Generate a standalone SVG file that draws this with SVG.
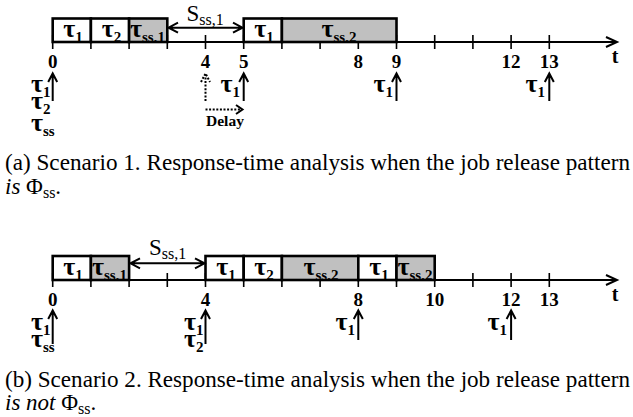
<svg xmlns="http://www.w3.org/2000/svg" width="633" height="417" viewBox="0 0 633 417">
<style>
.axis{stroke:#000;stroke-width:2;fill:none}
.tick{stroke:#000;stroke-width:1.6;fill:none}
.box{stroke:#000;stroke-width:2.6;fill:#fff}
.gray{fill:#c0c0c0}
.arr{stroke:#000;stroke-width:2;fill:none}
.dot{stroke:#000;stroke-width:2;fill:none;stroke-dasharray:2 1.6}
.num{font-family:"Liberation Serif",serif;font-weight:bold;font-size:19px;text-anchor:middle;fill:#000}
.tau{font-family:"Liberation Serif",serif;font-weight:bold;font-size:26px;fill:#000}
.sub{font-size:15px}
.ssub{font-size:16px}
.s{font-family:"Liberation Serif",serif;font-size:23px;fill:#000}
.cap{font-family:"Liberation Serif",serif;font-size:23px;fill:#000}
.it{font-style:italic}
.csub{font-size:16px}
.delay{font-family:"Liberation Serif",serif;font-weight:bold;font-size:15.5px;fill:#000}
</style>
<defs>
<clipPath id="clipA"><rect x="0" y="0" width="633" height="42"/></clipPath>
<clipPath id="clipB"><rect x="0" y="230" width="633" height="50"/></clipPath>
</defs>

<!-- Scenario 1 -->
<g id="axis-a">
<path class="axis" d="M52.7 42H617M606 37L617 42L606 47"/>
<path class="tick" d="M52.7 35V49M90.9 35V49M129.1 35V49M167.3 35V49M205.5 35V49M243.7 35V49M281.9 35V49M320.1 35V49M358.3 35V49M396.5 35V49M434.7 35V49M472.9 35V49M511.1 35V49M549.3 35V49"/>
<text class="num" x="52.7" y="68">0</text>
<text class="num" x="205.5" y="68">4</text>
<text class="num" x="243.7" y="68">5</text>
<text class="num" x="358.3" y="68">8</text>
<text class="num" x="396.5" y="68">9</text>
<text class="num" x="511.1" y="68">12</text>
<text class="num" x="549.3" y="68">13</text>
<text class="num" x="615" y="63" style="font-size:20px">t</text>
</g>
<g id="a-tau1-0"><rect class="box" x="52.7" y="18.5" width="38.2" height="23.5"/></g>
<g id="a-tau2"><rect class="box" x="90.9" y="18.5" width="38.2" height="23.5"/></g>
<g id="a-tauss1"><rect class="box gray" x="129.1" y="18.5" width="38.2" height="23.5"/></g>
<g id="a-tau1-5"><rect class="box" x="243.7" y="18.5" width="38.2" height="23.5"/></g>
<g id="a-tauss2"><rect class="box gray" x="281.9" y="18.5" width="114.6" height="23.5"/></g>
<g id="a-box-labels" clip-path="url(#clipA)">
<text class="tau" x="73" y="37" text-anchor="middle">τ<tspan class="sub" dy="5">1</tspan></text>
<text class="tau" x="111.5" y="37" text-anchor="middle">τ<tspan class="sub" dy="5">2</tspan></text>
<text class="tau" x="130" y="37">τ<tspan class="sub" dy="5">ss,1</tspan></text>
<text class="tau" x="264" y="37" text-anchor="middle">τ<tspan class="sub" dy="5">1</tspan></text>
<text class="tau" x="339" y="37" text-anchor="middle">τ<tspan class="sub" dy="5">ss,2</tspan></text>
</g>
<g id="a-release-labels">
<text class="tau" x="31" y="92">τ<tspan class="sub" dy="5">1</tspan><tspan x="31" dy="12">τ</tspan><tspan class="sub" dy="5">2</tspan><tspan x="31" dy="17">τ</tspan><tspan class="sub" dy="5">ss</tspan></text>
<text class="tau" x="240" y="92" text-anchor="end">τ<tspan class="sub" dy="5">1</tspan></text>
<text class="tau" x="393" y="92" text-anchor="end">τ<tspan class="sub" dy="5">1</tspan></text>
<text class="tau" x="545" y="92" text-anchor="end">τ<tspan class="sub" dy="5">1</tspan></text>
<text class="s" x="186.5" y="20.5">S<tspan class="ssub" dy="4">ss,1</tspan></text>
<text class="delay" x="206" y="126">Delay</text>
</g>

<!-- Scenario 2 -->
<g id="axis-b">
<path class="axis" d="M52.7 280H617M606 275L617 280L606 285"/>
<path class="tick" d="M52.7 273V287M90.9 273V287M129.1 273V287M167.3 273V287M205.5 273V287M243.7 273V287M281.9 273V287M320.1 273V287M358.3 273V287M396.5 273V287M434.7 273V287M472.9 273V287M511.1 273V287M549.3 273V287"/>
<text class="num" x="52.7" y="306">0</text>
<text class="num" x="205.5" y="306">4</text>
<text class="num" x="358.3" y="306">8</text>
<text class="num" x="434.7" y="306">10</text>
<text class="num" x="511.1" y="306">12</text>
<text class="num" x="549.3" y="306">13</text>
<text class="num" x="615" y="301" style="font-size:20px">t</text>
</g>
<g id="b-tau1-0"><rect class="box" x="52.7" y="256" width="38.2" height="24"/></g>
<g id="b-tauss1"><rect class="box gray" x="90.9" y="256" width="38.2" height="24"/></g>
<g id="b-tau1-4"><rect class="box" x="205.5" y="256" width="38.2" height="24"/></g>
<g id="b-tau2"><rect class="box" x="243.7" y="256" width="38.2" height="24"/></g>
<g id="b-tauss2-a"><rect class="box gray" x="281.9" y="256" width="76.4" height="24"/></g>
<g id="b-tau1-8"><rect class="box" x="358.3" y="256" width="38.2" height="24"/></g>
<g id="b-tauss2-b"><rect class="box gray" x="396.5" y="256" width="38.2" height="24"/></g>
<g id="b-box-labels" clip-path="url(#clipB)">
<text class="tau" x="73" y="274.5" text-anchor="middle">τ<tspan class="sub" dy="5">1</tspan></text>
<text class="tau" x="92" y="274.5">τ<tspan class="sub" dy="5">ss,1</tspan></text>
<text class="tau" x="226" y="274.5" text-anchor="middle">τ<tspan class="sub" dy="5">1</tspan></text>
<text class="tau" x="264" y="274.5" text-anchor="middle">τ<tspan class="sub" dy="5">2</tspan></text>
<text class="tau" x="321" y="274.5" text-anchor="middle">τ<tspan class="sub" dy="5">ss,2</tspan></text>
<text class="tau" x="379" y="274.5" text-anchor="middle">τ<tspan class="sub" dy="5">1</tspan></text>
<text class="tau" x="397.5" y="274.5">τ<tspan class="sub" dy="5">ss,2</tspan></text>
</g>
<g id="b-release-labels">
<text class="tau" x="31" y="330">τ<tspan class="sub" dy="5">1</tspan><tspan x="31" dy="12">τ</tspan><tspan class="sub" dy="5">ss</tspan></text>
<text class="tau" x="184" y="330">τ<tspan class="sub" dy="5">1</tspan><tspan x="184" dy="12">τ</tspan><tspan class="sub" dy="5">2</tspan></text>
<text class="tau" x="355" y="330" text-anchor="end">τ<tspan class="sub" dy="5">1</tspan></text>
<text class="tau" x="507" y="330" text-anchor="end">τ<tspan class="sub" dy="5">1</tspan></text>
<text class="s" x="149" y="255">S<tspan class="ssub" dy="4">ss,1</tspan></text>
</g>

<g id="connectors">
<path class="arr" d="M169 27.7H242M178 22.7L168.5 27.7L178 32.7M233 22.7L242.5 27.7L233 32.7"/>
<path class="arr" d="M52.7 101V74M48.2 82L52.7 73.5L57.2 82"/>
<path class="arr" d="M243.7 101V74M239.2 82L243.7 73.5L248.2 82"/>
<path class="arr" d="M396.5 101V74M392 82L396.5 73.5L401 82"/>
<path class="arr" d="M549.3 101V74M544.8 82L549.3 73.5L553.8 82"/>
<path class="dot" d="M205.5 101V75"/>
<path class="arr" d="M201 82L205.5 73.5L210 82" stroke-dasharray="2 1.6"/>
<path class="dot" d="M205.5 109.5H241"/>
<path class="arr" d="M236 105L242.5 109.5L236 114"/>
<path class="arr" d="M130.8 263.3H204M140 258.3L130.5 263.3L140 268.3M195 258.3L204.5 263.3L195 268.3"/>
<path class="arr" d="M52.7 344V311M48.2 319L52.7 310.5L57.2 319"/>
<path class="arr" d="M205.5 344V311M201 319L205.5 310.5L210 319"/>
<path class="arr" d="M358.3 340V311M353.8 319L358.3 310.5L362.8 319"/>
<path class="arr" d="M511.1 340V311M506.6 319L511.1 310.5L515.6 319"/>
</g>

<g id="captions">
<text class="cap" x="5" y="170" textLength="625" lengthAdjust="spacingAndGlyphs">(a) Scenario 1. Response-time analysis when the job release pattern</text>
<text class="cap" x="5" y="194"><tspan class="it">is</tspan> Φ<tspan class="csub" dy="4">ss</tspan><tspan dy="-4">.</tspan></text>
<text class="cap" x="5" y="387" textLength="625" lengthAdjust="spacingAndGlyphs">(b) Scenario 2. Response-time analysis when the job release pattern</text>
<text class="cap" x="5" y="410"><tspan class="it">is not</tspan> Φ<tspan class="csub" dy="4">ss</tspan><tspan dy="-4">.</tspan></text>
</g>
</svg>
